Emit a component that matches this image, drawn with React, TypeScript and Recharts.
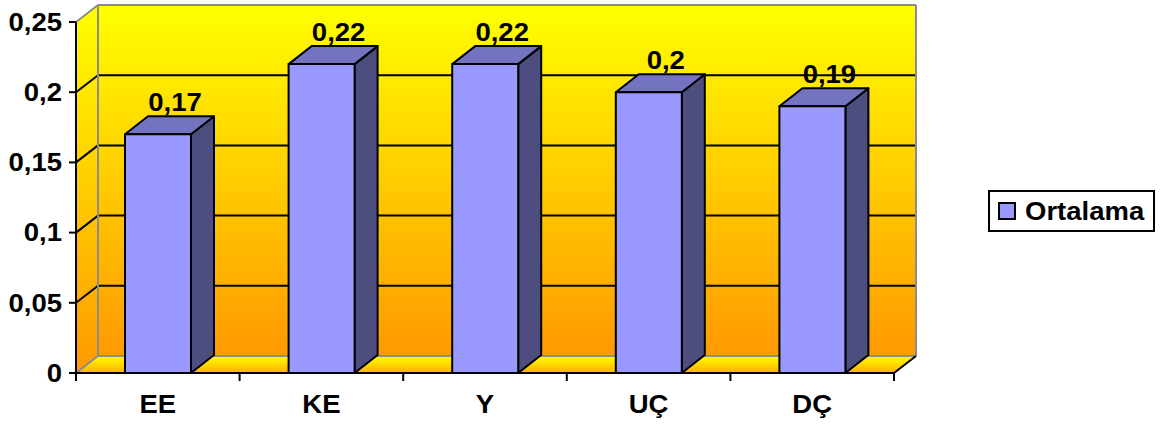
import React from 'react';
import { BarChart, Bar, XAxis, YAxis, ReferenceArea, LabelList, Legend } from 'recharts';

const categories = ['EE', 'KE', 'Y', 'UÇ', 'DÇ'];
const ortalama = [0.17, 0.22, 0.22, 0.2, 0.19];
const yTicks = [0, 0.05, 0.1, 0.15, 0.2, 0.25];
const seriesName = 'Ortalama';

const data = categories.map((c, i) => ({ name: c, value: ortalama[i] }));

const FONT = '"Liberation Sans", Arial, sans-serif';
const FS = 25;
const SX = 1.1;
const fmt = (v: number) => String(v).replace('.', ',');

const WDX = 22;
const WDY = 17;
const BDX = 23;
const BDY = 18;

const Background = (props: any) => {
  const { x, y, width, height } = props;
  const y0 = y + height;
  const n = yTicks.length - 1;
  const grid = [] as any[];
  for (let i = 1; i < n; i++) {
    const yy = y0 - (i * height) / n;
    grid.push(
      <g key={'g' + i}>
        <line x1={x} y1={yy} x2={x + WDX} y2={yy - WDY} stroke="#000" strokeWidth={2} />
        <line x1={x + WDX} y1={yy - WDY} x2={x + width + WDX} y2={yy - WDY} stroke="#000" strokeWidth={2} />
      </g>
    );
  }
  const ticks = [] as any[];
  for (let i = 0; i <= categories.length; i++) {
    const xx = x + (i * width) / categories.length;
    ticks.push(<line key={'t' + i} x1={xx} y1={y0} x2={xx} y2={y0 + 8} stroke="#000" strokeWidth={2} />);
  }
  const gray = '#8c8c8c';
  return (
    <g>
      <defs>
        <linearGradient id="wallGrad" x1="0" y1={y - WDY} x2="0" y2={y0 - WDY} gradientUnits="userSpaceOnUse">
          <stop offset="0" stopColor="#FFFF00" />
          <stop offset="0.5" stopColor="#FFCC00" />
          <stop offset="1" stopColor="#FF9900" />
        </linearGradient>
        <linearGradient id="leftGrad" x1="0" y1={y - WDY} x2="0" y2={y0} gradientUnits="userSpaceOnUse">
          <stop offset="0" stopColor="#FFFF00" />
          <stop offset="0.5" stopColor="#FFCC00" />
          <stop offset="1" stopColor="#FF9900" />
        </linearGradient>
        <linearGradient id="floorGrad" x1="0" y1={y0 - WDY} x2="0" y2={y0} gradientUnits="userSpaceOnUse">
          <stop offset="0" stopColor="#FFFF00" />
          <stop offset="1" stopColor="#FFB000" />
        </linearGradient>
      </defs>
      <rect x={x + WDX} y={y - WDY} width={width} height={height} fill="url(#wallGrad)" />
      <polygon
        points={`${x},${y0} ${x + WDX},${y0 - WDY} ${x + WDX},${y - WDY} ${x},${y}`}
        fill="url(#leftGrad)"
      />
      <polygon
        points={`${x},${y0} ${x + WDX},${y0 - WDY} ${x + width + WDX},${y0 - WDY} ${x + width},${y0}`}
        fill="url(#floorGrad)"
      />
      {grid}
      <line x1={x} y1={y} x2={x + WDX} y2={y - WDY} stroke={gray} strokeWidth={2} />
      <line x1={x + WDX} y1={y - WDY} x2={x + width + WDX} y2={y - WDY} stroke={gray} strokeWidth={2} />
      <line x1={x + width + WDX} y1={y - WDY} x2={x + width + WDX} y2={y0 - WDY} stroke={gray} strokeWidth={2} />
      <line x1={x + WDX} y1={y - WDY} x2={x + WDX} y2={y0 - WDY} stroke={gray} strokeWidth={2} />
      <line x1={x + WDX} y1={y0 - WDY} x2={x + width + WDX} y2={y0 - WDY} stroke={gray} strokeWidth={2} />
      <line x1={x} y1={y0} x2={x + WDX} y2={y0 - WDY} stroke={gray} strokeWidth={2} />
      <line x1={x + width} y1={y0} x2={x + width + WDX} y2={y0 - WDY} stroke="#000" strokeWidth={2} />
      {ticks}
    </g>
  );
};

const Bar3D = (props: any) => {
  const { x, y, width, height } = props;
  const b = y + height;
  return (
    <g stroke="#000" strokeWidth={2} strokeLinejoin="round">
      <polygon
        points={`${x + width},${y} ${x + width + BDX},${y - BDY} ${x + width + BDX},${b - BDY} ${x + width},${b}`}
        fill="#4D4D80"
      />
      <polygon
        points={`${x},${y} ${x + BDX},${y - BDY} ${x + width + BDX},${y - BDY} ${x + width},${y}`}
        fill="#7373BF"
      />
      <rect x={x} y={y} width={width} height={height} fill="#9999FF" />
    </g>
  );
};

const SText = ({ x, y, anchor, dy, children }: any) => (
  <text
    transform={`translate(${x},${y}) scale(${SX},1)`}
    x={0}
    y={0}
    dy={dy}
    textAnchor={anchor}
    fontFamily={FONT}
    fontWeight={700}
    fontSize={FS}
    fill="#000"
  >
    {children}
  </text>
);

const BarLabel = (props: any) => {
  const { x, y, width, value } = props;
  return (
    <SText x={x + width / 2 + 17} y={y - 23} anchor="middle">
      {fmt(value)}
    </SText>
  );
};

const XTick = (props: any) => {
  const { x, y, payload } = props;
  return (
    <SText x={x} y={y + 32} anchor="middle">
      {payload.value}
    </SText>
  );
};

const YTick = (props: any) => {
  const { x, y, payload } = props;
  return (
    <SText x={x} y={y} anchor="end" dy="0.355em">
      {fmt(payload.value)}
    </SText>
  );
};

const LegendBox = () => (
  <div
    style={{
      boxSizing: 'border-box',
      width: 167,
      height: 42,
      border: '2px solid #000',
      background: '#fff',
      display: 'flex',
      alignItems: 'center',
      paddingLeft: 8,
      fontFamily: FONT,
      fontWeight: 700,
      fontSize: FS,
      color: '#000',
      whiteSpace: 'nowrap',
    }}
  >
    <span
      style={{
        display: 'inline-block',
        boxSizing: 'border-box',
        width: 18,
        height: 18,
        background: '#9999FF',
        border: '2px solid #000',
        marginRight: 9,
        flex: 'none',
      }}
    />
    <span style={{ display: 'inline-block', transform: `scaleX(${SX})`, transformOrigin: 'left center' }}>
      {seriesName}
    </span>
  </div>
);

export default function App() {
  return (
    <div style={{ position: 'absolute', left: 0, top: 0, width: 1167, height: 426, background: '#fff' }}>
      <BarChart width={1167} height={426} data={data} margin={{ top: 22, right: 273, bottom: 0, left: 16 }}>
        <ReferenceArea y1={0} y2={0.25} ifOverflow="visible" shape={Background} zIndex={-100} />
        <XAxis
          dataKey="name"
          height={53}
          axisLine={{ stroke: '#000', strokeWidth: 2 }}
          tickLine={false}
          tick={XTick}
          interval={0}
        />
        <YAxis
          width={60}
          domain={[0, 0.25]}
          ticks={yTicks}
          interval={0}
          axisLine={{ stroke: '#000', strokeWidth: 2 }}
          tickLine={{ stroke: '#000', strokeWidth: 2 }}
          tickSize={7}
          tickMargin={7}
          tick={YTick}
        />
        <Bar dataKey="value" name={seriesName} barSize={66} shape={Bar3D} isAnimationActive={false}>
          <LabelList dataKey="value" content={BarLabel} />
        </Bar>
        <Legend
          layout="horizontal"
          verticalAlign="middle"
          align="center"
          content={LegendBox}
          wrapperStyle={{ left: 988, top: 190, width: 167, height: 42 }}
        />
      </BarChart>
    </div>
  );
}
